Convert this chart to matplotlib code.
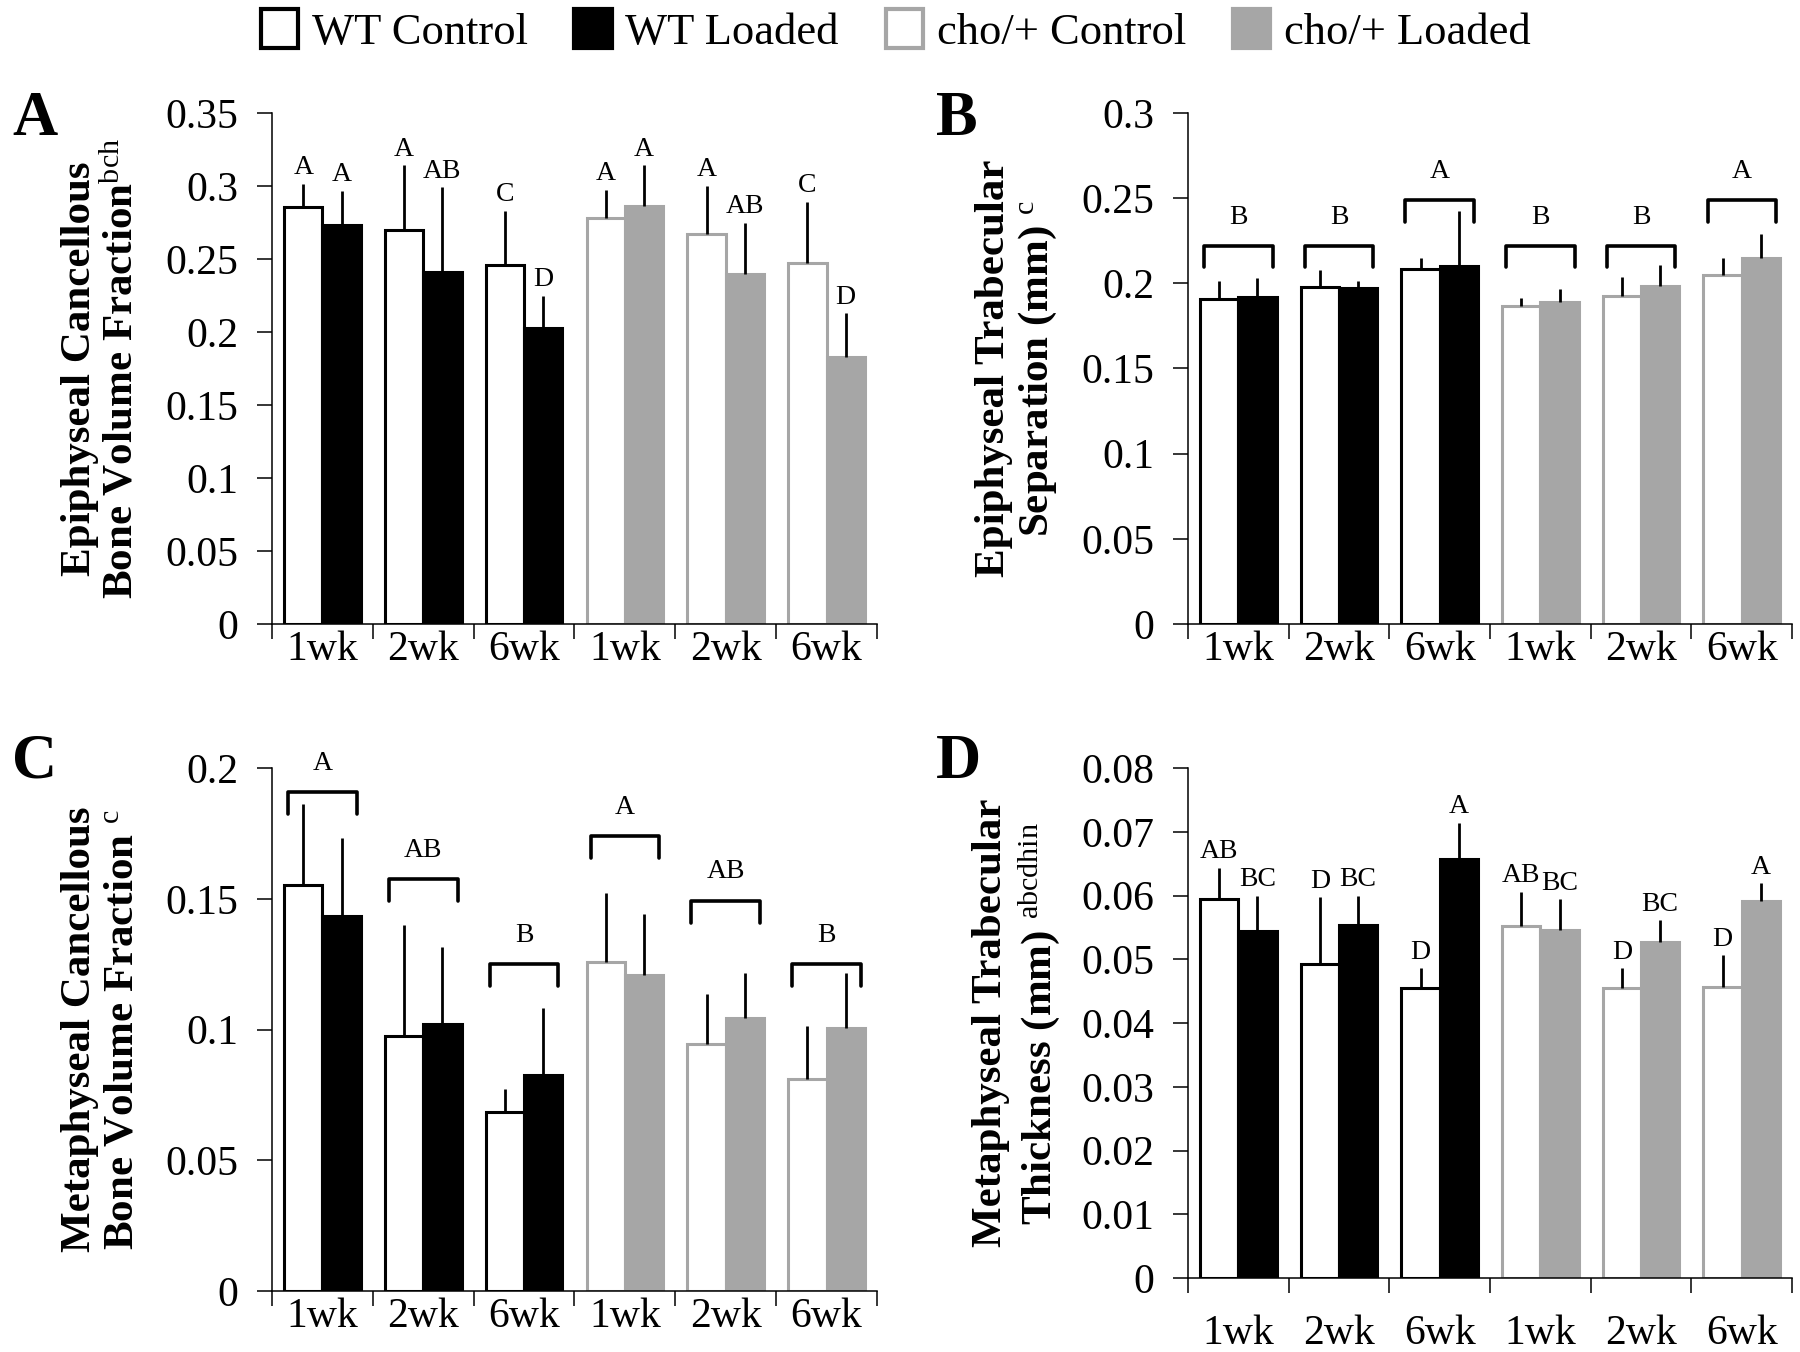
'''
- Four bar panels: epiphyseal / metaphyseal bone parameters, WT vs cho/+
- Control vs Loaded at 1, 2, 6 weeks, with letter groupings
'''
import matplotlib.pyplot as plt
import matplotlib.ticker as mticker
from matplotlib.patches import Patch
import numpy as np

plt.rcParams['font.family'] = 'Liberation Serif'
plt.rcParams['mathtext.fontset'] = 'custom'
plt.rcParams['mathtext.rm'] = 'Liberation Serif'
plt.rcParams['mathtext.it'] = 'Liberation Serif:italic'
plt.rcParams['mathtext.bf'] = 'Liberation Serif:bold'

weeks = ['1wk', '2wk', '6wk', '1wk', '2wk', '6wk']   # first 3 WT, last 3 cho/+
groups = ['WT Control', 'WT Loaded', 'cho/+ Control', 'cho/+ Loaded']

# A - epiphyseal cancellous BV/TV
a_ctrl = [0.2856, 0.270, 0.246, 0.2783, 0.2668, 0.2472]
a_ctrl_sd = [0.016, 0.044, 0.037, 0.019, 0.033, 0.042]
a_load = [0.2734, 0.241, 0.2026, 0.2861, 0.2396, 0.1828]
a_load_sd = [0.023, 0.058, 0.022, 0.028, 0.035, 0.030]
a_ctrl_let = ['A', 'A', 'C', 'A', 'A', 'C']
a_load_let = ['A', 'AB', 'D', 'A', 'AB', 'D']

# B - epiphyseal trabecular separation
b_ctrl = [0.1905, 0.198, 0.2085, 0.1865, 0.1924, 0.205]
b_ctrl_sd = [0.011, 0.010, 0.0065, 0.005, 0.011, 0.010]
b_load = [0.1922, 0.1972, 0.2102, 0.1888, 0.1982, 0.215]
b_load_sd = [0.011, 0.004, 0.032, 0.008, 0.0126, 0.0137]
b_pair_let = ['B', 'B', 'A', 'B', 'B', 'A']
b_pair_lvl = [0.222, 0.222, 0.2486, 0.222, 0.222, 0.2486]

# C - metaphyseal cancellous BV/TV
c_ctrl = [0.1553, 0.0975, 0.0683, 0.1257, 0.0944, 0.081]
c_ctrl_sd = [0.031, 0.0425, 0.0088, 0.0267, 0.0192, 0.0205]
c_load = [0.1433, 0.1021, 0.0825, 0.1207, 0.1045, 0.1007]
c_load_sd = [0.030, 0.0294, 0.0258, 0.0235, 0.017, 0.0208]
c_pair_let = ['A', 'AB', 'B', 'A', 'AB', 'B']
c_pair_lvl = [0.1909, 0.1576, 0.1249, 0.1739, 0.1493, 0.1249]

# D - metaphyseal trabecular thickness
d_ctrl = [0.0594, 0.0493, 0.0455, 0.0553, 0.0455, 0.0457]
d_ctrl_sd = [0.005, 0.0104, 0.0031, 0.0053, 0.0031, 0.0049]
d_load = [0.0544, 0.0554, 0.0658, 0.0546, 0.0527, 0.0592]
d_load_sd = [0.0055, 0.0045, 0.0056, 0.0048, 0.0034, 0.0027]
d_ctrl_let = ['AB', 'D', 'D', 'AB', 'D', 'D']
d_load_let = ['BC', 'BC', 'A', 'BC', 'BC', 'A']

GRAY = '#a6a6a6'


def draw_panel(ax, ctrl, ctrl_sd, load, load_sd, ymax, ystep, xpad):
    x = np.arange(len(weeks))
    edge_c = ['black'] * 3 + [GRAY] * 3
    fill_l = ['black'] * 3 + [GRAY] * 3
    ax.bar(x - 0.19, ctrl, 0.38, color='white', edgecolor=edge_c, linewidth=2.2, zorder=2)
    ax.bar(x + 0.19, load, 0.38, color=fill_l, edgecolor=fill_l, linewidth=2.2, zorder=2)
    z = np.zeros(len(x))
    ax.errorbar(x - 0.19, ctrl, yerr=[z, ctrl_sd], fmt='none', ecolor='black',
                elinewidth=2, capsize=0, zorder=3)
    ax.errorbar(x + 0.19, load, yerr=[z, load_sd], fmt='none', ecolor='black',
                elinewidth=2, capsize=0, zorder=3)

    ax.set_xlim(-0.5, 5.5)
    ax.set_ylim(0, ymax)
    ax.set_yticks(np.arange(0, ymax + ystep / 2, ystep))
    ax.yaxis.set_major_formatter(mticker.FuncFormatter(lambda v, p: '%g' % round(v, 4)))
    ax.set_xticks(x)
    ax.set_xticklabels(weeks)
    ax.set_xticks(np.arange(-0.5, 6, 1), minor=True)
    ax.tick_params(axis='x', which='major', length=0, pad=xpad, labelsize=30)
    ax.tick_params(axis='x', which='minor', length=11, width=1.1, direction='out')
    ax.tick_params(axis='y', length=11, width=1.1, pad=13, labelsize=30)
    for s in ['top', 'right']:
        ax.spines[s].set_visible(False)
    for s in ['left', 'bottom']:
        ax.spines[s].set_linewidth(1.1)
    return x


def bar_letters(ax, x, vals, sds, letters):
    for xi, v, s, t in zip(x, vals, sds, letters):
        ax.annotate(t, (xi, v + s), xytext=(0, 7), textcoords='offset points',
                    ha='center', va='baseline', fontsize=20)


def pair_brackets(ax, x, levels, letters, ymax):
    leg = 0.042 * ymax
    for xi, lv, t in zip(x, levels, letters):
        ax.plot([xi - 0.34, xi - 0.34, xi + 0.34, xi + 0.34], [lv - leg, lv, lv, lv - leg],
                color='black', lw=2.6, solid_joinstyle='round', solid_capstyle='round',
                zorder=4)
        ax.annotate(t, (xi, lv), xytext=(0, 16), textcoords='offset points',
                    ha='center', va='baseline', fontsize=20)


fig = plt.figure(figsize=(18, 13.52), dpi=100)
axA = fig.add_axes([0.1511, 0.5385, 0.3361, 0.378])
axB = fig.add_axes([0.66, 0.5385, 0.3356, 0.378])
axC = fig.add_axes([0.1511, 0.0451, 0.3361, 0.3868])
axD = fig.add_axes([0.66, 0.0547, 0.3356, 0.3772])

x = draw_panel(axA, a_ctrl, a_ctrl_sd, a_load, a_load_sd, 0.35, 0.05, 5)
bar_letters(axA, x - 0.19, a_ctrl, a_ctrl_sd, a_ctrl_let)
bar_letters(axA, x + 0.19, a_load, a_load_sd, a_load_let)

x = draw_panel(axB, b_ctrl, b_ctrl_sd, b_load, b_load_sd, 0.3, 0.05, 5)
pair_brackets(axB, x, b_pair_lvl, b_pair_let, 0.3)

x = draw_panel(axC, c_ctrl, c_ctrl_sd, c_load, c_load_sd, 0.2, 0.05, 5)
pair_brackets(axC, x, c_pair_lvl, c_pair_let, 0.2)

x = draw_panel(axD, d_ctrl, d_ctrl_sd, d_load, d_load_sd, 0.08, 0.01, 26)
bar_letters(axD, x - 0.19, d_ctrl, d_ctrl_sd, d_ctrl_let)
bar_letters(axD, x + 0.19, d_load, d_load_sd, d_load_let)

# y labels (bold, two lines, regular superscripts)
lab = dict(rotation=90, ha='center', va='center', fontsize=31, fontweight='bold',
           multialignment='center', linespacing=1.15)
fig.text(101 / 1800, 1 - 368.5 / 1352,
         'Epiphyseal Cancellous\nBone Volume Fraction$^{\\rm bch}$', **lab)
fig.text(1017 / 1800, 1 - 368.5 / 1352,
         'Epiphyseal Trabecular\nSeparation (mm) $^{\\rm c}$', **lab)
fig.text(101 / 1800, 1 - 1029 / 1352,
         'Metaphyseal Cancellous\nBone Volume Fraction $^{\\rm c}$', **lab)
fig.text(1017 / 1800, 1 - 1023 / 1352,
         'Metaphyseal Trabecular\nThickness (mm) $^{\\rm abcdhin}$', **lab)

# panel letters
for lx, ly, t in [(12, 135, 'A'), (936, 135, 'B'), (12, 778, 'C'), (936, 778, 'D')]:
    fig.text(lx / 1800, 1 - ly / 1352, t, fontsize=45, fontweight='bold', va='baseline')

handles = [Patch(facecolor='white', edgecolor='black', linewidth=3),
           Patch(facecolor='black', edgecolor='black', linewidth=3),
           Patch(facecolor='white', edgecolor=GRAY, linewidth=3),
           Patch(facecolor=GRAY, edgecolor=GRAY, linewidth=3)]
fig.legend(handles, groups, loc='upper center', bbox_to_anchor=(0.4975, 0.997), ncol=4,
           frameon=False, fontsize=32, handlelength=0.85, handleheight=1.0,
           handletextpad=0.3, columnspacing=1.05, borderaxespad=0, borderpad=0.1)

fig.savefig('out.png', dpi=100)
